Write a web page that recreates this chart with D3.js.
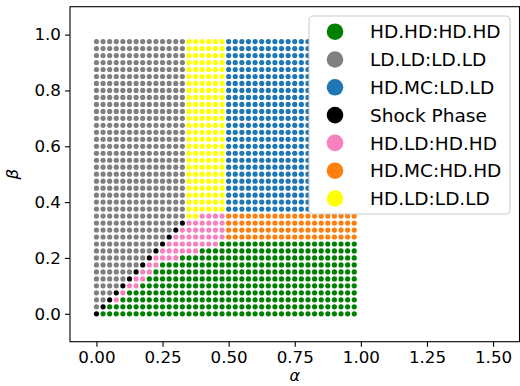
<!DOCTYPE html>
<meta charset="utf-8">
<style>
  body { margin: 0; background: #fff; }
  text { font-family: "DejaVu Sans", sans-serif; }
</style>

<!-- Load d3.js -->
<script src="https://d3js.org/d3.v7.min.js"></script>

<div id="my_dataviz"></div>

<script>
// Phase names, in legend order, and their colours
var phases = ["HD.HD:HD.HD", "LD.LD:LD.LD", "HD.MC:LD.LD", "Shock Phase",
              "HD.LD:HD.HD", "HD.MC:HD.HD", "HD.LD:LD.LD"];
var phaseCodes = ["G", "L", "B", "K", "P", "O", "Y"];
var phaseColors = ["green", "grey", "#1f77b4", "black", "#f781bf", "#ff7f0e", "yellow"];

// Grid of the sweep: alpha and beta both go 0 .. 0.975 in 40 steps
var gridStep = 0.025;
var gridCount = 40;

// Phase runs along alpha for each beta row (row 0 = beta 0)
var rowRuns = [
  "K1 G39",
  "L1 K1 G38",
  "L2 K1 P1 G36",
  "L3 K1 P1 G35",
  "L4 K1 P2 G33",
  "L5 K1 P2 G32",
  "L6 K1 P2 G31",
  "L7 K1 P2 G30",
  "L8 K1 P4 G27",
  "L9 K1 P6 G24",
  "L10 K1 P8 G21",
  "L11 K1 P8 O20",
  "L12 K1 P7 O20",
  "L13 K1 P6 O20",
  "L14 Y2 P4 O20"
];
// rows 15 .. 39 all share one pattern
var upperRun = "L14 Y6 B20";

// Tick labels
var xTicks = [0, 0.25, 0.5, 0.75, 1.0, 1.25, 1.5];
var yTicks = [0, 0.2, 0.4, 0.6, 0.8, 1.0];

// Expand the runs into points
var points = [];
for (var j = 0; j < gridCount; j++) {
  var runs = (j < rowRuns.length ? rowRuns[j] : upperRun).split(" ");
  var i = 0;
  runs.forEach(function(r) {
    var code = r[0], n = +r.slice(1);
    for (var k = 0; k < n; k++, i++) {
      points.push({alpha: i * gridStep, beta: j * gridStep, phase: phaseCodes.indexOf(code)});
    }
  });
}

var width = 520, height = 386;
var plot = {left: 70, right: 519.5, top: 6.7, bottom: 341.7};

var svg = d3.select("#my_dataviz")
  .append("svg")
    .attr("width", width)
    .attr("height", height);

var x = d3.scaleLinear().domain([-0.1, 1.6]).range([plot.left, plot.right]);
var y = d3.scaleLinear().domain([-0.1, 1.1]).range([plot.bottom, plot.top]);

// Dots, drawn phase by phase like separate scatter calls
phases.forEach(function(name, p) {
  svg.append("g")
    .attr("fill", phaseColors[p])
  .selectAll()
  .data(points.filter(d => d.phase === p))
  .join("circle")
    .attr("cx", d => x(d.alpha))
    .attr("cy", d => y(d.beta))
    .attr("r", 2.6);
});

// Axes
var xAxis = svg.append("g")
    .attr("transform", `translate(0,${plot.bottom})`)
    .call(d3.axisBottom(x).tickValues(xTicks).tickFormat(d3.format(".2f"))
      .tickSize(5).tickPadding(4).tickSizeOuter(0));
var yAxis = svg.append("g")
    .attr("transform", `translate(${plot.left},0)`)
    .call(d3.axisLeft(y).tickValues(yTicks).tickFormat(d3.format(".1f"))
      .tickSize(5).tickPadding(4).tickSizeOuter(0));

[xAxis, yAxis].forEach(function(a) {
  a.select(".domain").remove();
  a.selectAll("line").attr("stroke", "#000").attr("stroke-width", 1.1);
  a.selectAll("text")
    .attr("font-family", "DejaVu Sans")
    .attr("font-size", 16.7)
    .attr("fill", "#000");
});

// Frame
svg.append("rect")
    .attr("x", plot.left)
    .attr("y", plot.top)
    .attr("width", plot.right - plot.left)
    .attr("height", plot.bottom - plot.top)
    .attr("fill", "none")
    .attr("stroke", "#000")
    .attr("stroke-width", 1.1);

// Axis labels
svg.append("text")
    .attr("x", (plot.left + plot.right) / 2)
    .attr("y", 381)
    .attr("text-anchor", "middle")
    .attr("font-size", 16)
    .attr("font-style", "italic")
    .text("α");

svg.append("text")
    .attr("transform", `translate(18,${(plot.top + plot.bottom) / 2}) rotate(-90)`)
    .attr("text-anchor", "middle")
    .attr("font-size", 16.7)
    .attr("font-style", "italic")
    .text("β");

// Legend
var legend = svg.append("g");
legend.append("rect")
    .attr("x", 309)
    .attr("y", 16)
    .attr("width", 201)
    .attr("height", 198)
    .attr("rx", 4)
    .attr("fill", "#fff")
    .attr("stroke", "#cccccc")
    .attr("stroke-width", 1.1);

var items = legend.selectAll(".item")
  .data(phases)
  .join("g")
    .attr("transform", (d, k) => `translate(0,${31.7 + k * 27.8})`);

items.append("circle")
    .attr("cx", 335)
    .attr("r", 8.3)
    .attr("fill", (d, k) => phaseColors[k]);

items.append("text")
    .attr("x", 370)
    .attr("y", 6.7)
    .attr("font-size", 18.5)
    .text(d => d);
</script>
